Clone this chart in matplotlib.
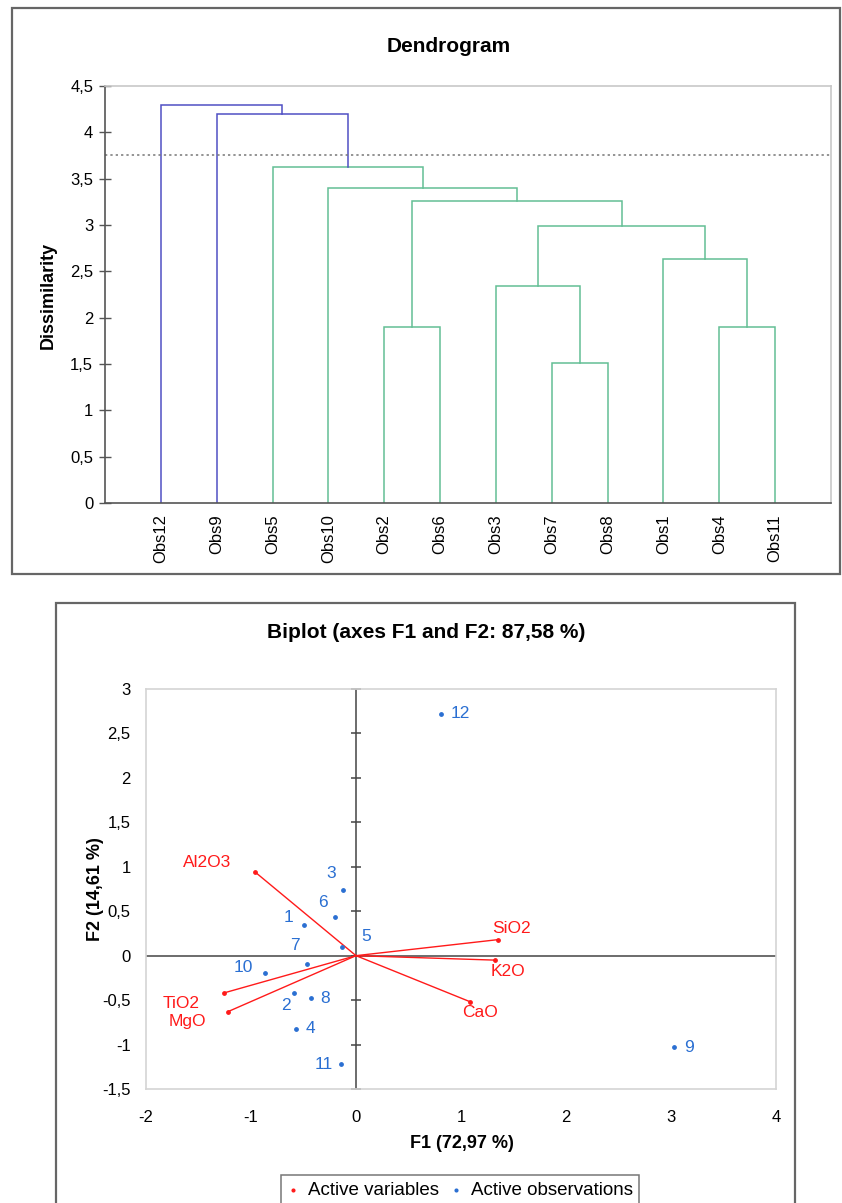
import matplotlib
matplotlib.use("Agg")
import matplotlib.pyplot as plt
from matplotlib.patches import Rectangle
import numpy as np

plt.rcParams['font.family'] = ['Liberation Sans', 'DejaVu Sans']

# ================= DATA =================
# dendrogram (leaf order as drawn, merges like a scipy linkage: a, b, height)
leaves = ['Obs12', 'Obs9', 'Obs5', 'Obs10', 'Obs2', 'Obs6',
          'Obs3', 'Obs7', 'Obs8', 'Obs1', 'Obs4', 'Obs11']
merge_a = [7, 4, 10, 6, 9, 15, 13, 3, 2, 1, 0]
merge_b = [8, 5, 11, 12, 14, 16, 17, 18, 19, 20, 21]
merge_h = [1.51, 1.90, 1.90, 2.34, 2.63, 2.99, 3.26, 3.40, 3.63, 4.20, 4.29]
cut_level = 3.76
dendro_yticks = [0, 0.5, 1, 1.5, 2, 2.5, 3, 3.5, 4, 4.5]

# biplot
obs_labels = ['1', '2', '3', '4', '5', '6', '7', '8', '9', '10', '11', '12']
obs_f1 = [-0.50, -0.59, -0.12, -0.57, -0.13, -0.20, -0.47, -0.43, 3.03, -0.87, -0.14, 0.81]
obs_f2 = [0.34, -0.42, 0.74, -0.82, 0.10, 0.43, -0.09, -0.48, -1.03, -0.19, -1.22, 2.72]

var_labels = ['SiO2', 'TiO2', 'Al2O3', 'MgO', 'CaO', 'K2O']
var_f1 = [1.35, -1.26, -0.96, -1.22, 1.09, 1.32]
var_f2 = [0.18, -0.42, 0.94, -0.63, -0.52, -0.05]

bi_xticks = [-2, -1, 0, 1, 2, 3, 4]
bi_yticks = [-1.5, -1, -0.5, 0, 0.5, 1, 1.5, 2, 2.5, 3]

# label offsets in pixels (dx right, dy down)
obs_off = [(-15, -8), (-8, 13), (-12, -16), (14, 0), (24, -10), (-12, -15),
           (-12, -18), (14, 0), (15, 0), (-21, -5), (-18, 0), (19, 0)]
var_off = [(-48, -10), (14, -11), (-43, 10), (-41, 10), (10, 11), (13, 11)]
var_off = dict(zip(['Al2O3', 'SiO2', 'TiO2', 'MgO', 'CaO', 'K2O'], var_off))

def fmt(v):
    return ('%g' % v).replace('.', ',')

# ================= FIGURE =================
W, H = 842, 1203
fig = plt.figure(figsize=(W / 100, H / 100), dpi=100)

def fx(px):
    return px / W

def fy(py):
    return 1 - py / H

# panel frames
fig.add_artist(Rectangle((fx(12), fy(574)), fx(840) - fx(12), fy(8) - fy(574),
                         transform=fig.transFigure, fill=False, ec='#666666', lw=1.6))
fig.add_artist(Rectangle((fx(56), fy(1230)), fx(795) - fx(56), fy(603) - fy(1230),
                         transform=fig.transFigure, fill=False, ec='#666666', lw=1.6))

# ================= DENDROGRAM =================
ax1 = fig.add_axes([fx(105), fy(503), (831 - 105) / W, (503 - 86) / H])
blue = '#4f4fc4'
green = '#63bf95'

pos = list(np.arange(1, len(leaves) + 1, dtype=float))
hgt = [0.0] * len(leaves)
for a, b, h in zip(merge_a, merge_b, merge_h):
    col = blue if h > cut_level else green
    ax1.plot([pos[a], pos[a], pos[b], pos[b]], [hgt[a], h, h, hgt[b]],
             color=col, lw=1.1, solid_joinstyle='miter')
    pos.append((pos[a] + pos[b]) / 2)
    hgt.append(h)

ax1.axhline(cut_level, color='#777777', lw=1.1, ls=(0, (1.5, 2)))

ax1.set_xlim(0, len(leaves) + 1)
ax1.set_ylim(0, 4.5)
ax1.set_xticks(np.arange(1, len(leaves) + 1))
ax1.set_xticklabels(leaves, rotation=90, fontsize=12)
ax1.tick_params(axis='x', length=0, pad=8)
ax1.set_yticks(dendro_yticks)
ax1.set_yticklabels([fmt(v) for v in dendro_yticks], fontsize=12)
ax1.tick_params(axis='y', direction='inout', length=9, width=1, color='#555555', pad=4)
for s in ['left', 'bottom']:
    ax1.spines[s].set_color('#555555')
    ax1.spines[s].set_linewidth(1.2)
for s in ['top', 'right']:
    ax1.spines[s].set_color('#c8c8c8')
    ax1.spines[s].set_linewidth(1.2)
fig.text(fx(48), fy(295), 'Dissimilarity', rotation=90, ha='center', va='center',
         fontsize=13, fontweight='bold')
fig.text(fx(449), fy(46), 'Dendrogram', ha='center', va='center',
         fontsize=15, fontweight='bold')

# ================= BIPLOT =================
ax2 = fig.add_axes([fx(146), fy(1089), (776 - 146) / W, (1089 - 689) / H])
red = '#ff1a1a'
oblue = '#2a6fd2'

ax2.axhline(0, color='#444444', lw=1.1, zorder=1)
ax2.axvline(0, color='#444444', lw=1.1, zorder=1)
ax2.plot(np.zeros(len(bi_yticks)), bi_yticks, ls='none', marker='_', ms=7.5,
         mew=1.1, color='#444444', zorder=1, clip_on=False)

for x, y in zip(var_f1, var_f2):
    ax2.plot([0, x], [0, y], color=red, lw=1, zorder=2)
sc_var = ax2.scatter(var_f1, var_f2, s=6, color=red, zorder=3, label='Active variables')
sc_obs = ax2.scatter(obs_f1, obs_f2, s=6, color=oblue, zorder=3, label='Active observations')

for lab, x, y in zip(var_labels, var_f1, var_f2):
    dx, dy = var_off[lab]
    ax2.annotate(lab, (x, y), xytext=(dx, -dy), textcoords='offset pixels',
                 ha='center', va='center', color=red, fontsize=12.5)
for lab, x, y, (dx, dy) in zip(obs_labels, obs_f1, obs_f2, obs_off):
    ax2.annotate(lab, (x, y), xytext=(dx, -dy), textcoords='offset pixels',
                 ha='center', va='center', color=oblue, fontsize=12.5)

ax2.set_xlim(-2, 4)
ax2.set_ylim(-1.5, 3)
ax2.set_xticks(bi_xticks)
ax2.set_xticklabels([fmt(v) for v in bi_xticks], fontsize=12)
ax2.set_yticks(bi_yticks)
ax2.set_yticklabels([fmt(v) for v in bi_yticks], fontsize=12)
ax2.tick_params(axis='x', length=0, pad=15)
ax2.tick_params(axis='y', length=0, pad=11)
for s in ax2.spines.values():
    s.set_color('#d4d4d4')
    s.set_linewidth(1.2)
fig.text(fx(462), fy(1144), 'F1 (72,97 %)', ha='center', va='center',
         fontsize=13, fontweight='bold')
fig.text(fx(95), fy(889), 'F2 (14,61 %)', rotation=90, ha='center', va='center',
         fontsize=13, fontweight='bold')
fig.text(fx(426), fy(632), 'Biplot (axes F1 and F2: 87,58 %)', ha='center', va='center',
         fontsize=15, fontweight='bold')

ax2.legend(handles=[sc_var, sc_obs], loc='upper center', ncol=2,
           bbox_to_anchor=(fx(460), fy(1175)), bbox_transform=fig.transFigure,
           fontsize=13.5, frameon=True, fancybox=False, edgecolor='#555555',
           handlelength=0.6, handletextpad=0.5, columnspacing=0.6, borderpad=0.35,
           borderaxespad=0, scatterpoints=1, markerscale=0.8)
ax2.get_legend().get_frame().set_linewidth(1.1)

fig.savefig('out.png', dpi=100)
